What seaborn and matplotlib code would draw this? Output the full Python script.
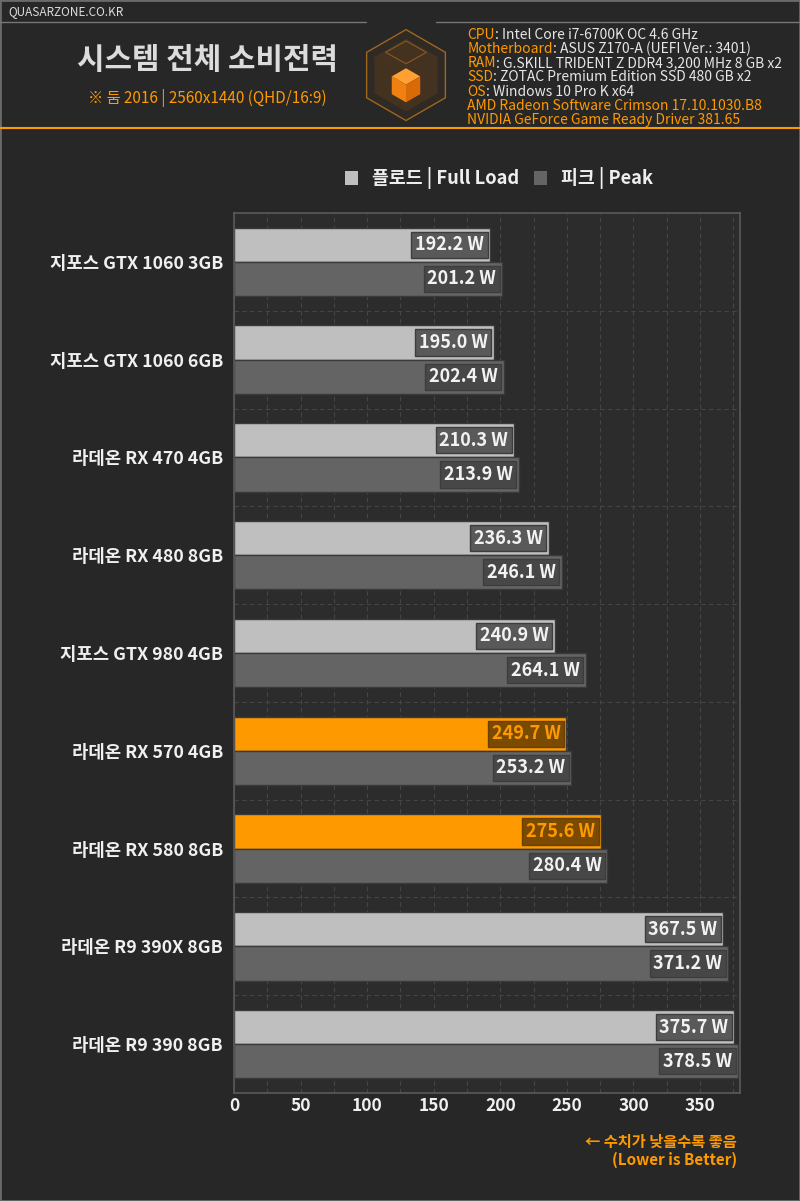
import matplotlib
matplotlib.use("Agg")
import matplotlib.pyplot as plt
from matplotlib.patches import RegularPolygon, Polygon, Rectangle
from matplotlib.lines import Line2D
import seaborn as sns
import pandas as pd
import numpy as np

# -----------------------------
# data
# -----------------------------
gpus = [
    "지포스 GTX 1060 3GB", "지포스 GTX 1060 6GB", "라데온 RX 470 4GB",
    "라데온 RX 480 8GB", "지포스 GTX 980 4GB", "라데온 RX 570 4GB",
    "라데온 RX 580 8GB", "라데온 R9 390X 8GB", "라데온 R9 390 8GB",
]
full_load = [192.2, 195.0, 210.3, 236.3, 240.9, 249.7, 275.6, 367.5, 375.7]
peak = [201.2, 202.4, 213.9, 246.1, 264.1, 253.2, 280.4, 371.2, 378.5]
highlight = ["라데온 RX 570 4GB", "라데온 RX 580 8GB"]
series = ["플로드 | Full Load", "피크 | Peak"]
xticks = [0, 50, 100, 150, 200, 250, 300, 350]

specs = [
    ("CPU", ": Intel Core i7-6700K OC 4.6 GHz"),
    ("Motherboard", ": ASUS Z170-A (UEFI Ver.: 3401)"),
    ("RAM", ": G.SKILL TRIDENT Z DDR4 3,200 MHz 8 GB x2"),
    ("SSD", ": ZOTAC Premium Edition SSD 480 GB x2"),
    ("OS", ": Windows 10 Pro K x64"),
    ("AMD Radeon Software Crimson 17.10.1030.B8", ""),
    ("NVIDIA GeForce Game Ready Driver 381.65", ""),
]

df = pd.DataFrame({
    "gpu": gpus * 2,
    "value": full_load + peak,
    "series": [series[0]] * len(gpus) + [series[1]] * len(gpus),
})

BG = "#272727"
ORANGE = "#ff9900"
C_FULL = "#bfbfbf"
C_PEAK = "#646464"

sns.set_theme(style="dark")
plt.rcParams["font.family"] = ["Noto Sans CJK KR", "DejaVu Sans"]

fig = plt.figure(figsize=(8, 12.01), dpi=100, facecolor=BG)
ax = fig.add_axes([0.2925, 0.0899, 0.6325, 0.7328])
ax.set_facecolor("#2c2c2c")

sns.barplot(data=df, y="gpu", x="value", hue="series", orient="h",
            palette=[C_FULL, C_PEAK], width=0.7, saturation=1,
            edgecolor="#3a3a3a", linewidth=1, legend=False, ax=ax)

ax.set_xlim(0, 380)
ax.set_xticks(xticks)
ax.set_xticks(np.arange(25, 380, 25), minor=True)
ax.set_xlabel("")
ax.set_ylabel("")
ax.tick_params(axis="x", colors="#f0f0f0", labelsize=12.5, length=0, pad=3)
ax.tick_params(axis="y", colors="#f0f0f0", labelsize=12.8, length=0, pad=8)
for t in ax.get_xticklabels() + ax.get_yticklabels():
    t.set_fontweight("bold")
ax.grid(True, axis="x", which="both", color="#454545", linestyle=(0, (4, 3)), linewidth=0.8)
ax.set_yticks(np.arange(len(gpus)) + 0.5, minor=True)
ax.tick_params(axis="y", which="minor", length=0)
ax.grid(True, axis="y", which="minor", color="#454545", linestyle=(0, (4, 3)), linewidth=0.8)
ax.set_axisbelow(True)
for s in ax.spines.values():
    s.set_color("#5a5a5a")
    s.set_linewidth(1.2)

# recolour highlighted cards & add value boxes
for ci, cont in enumerate(ax.containers):
    vals = full_load if ci == 0 else peak
    for i, bar in enumerate(cont):
        hot = ci == 0 and gpus[i] in highlight
        if hot:
            bar.set_facecolor(ORANGE)
        y = bar.get_y() + bar.get_height() / 2
        ax.text(vals[i] - 4.5, y, f"{vals[i]:.1f} W", ha="right", va="center",
                fontsize=13, fontweight="bold",
                color=ORANGE if hot else "#f2f2f2",
                bbox=dict(boxstyle="square,pad=0.2",
                          fc="#7a4a00" if hot else ("#595959" if ci == 0 else "#474747"),
                          ec="#3d3d3d" if not hot else "#6a3f00", lw=1))

# legend
for k, (lab, col) in enumerate(zip(series, [C_FULL, C_PEAK])):
    x0 = [0.431, 0.667][k]
    fig.patches.append(Rectangle((x0, 0.846), 0.017, 0.0115, transform=fig.transFigure,
                                 fc=col, ec="none"))
    fig.text(x0 + 0.034, 0.852, lab, color="#eeeeee", fontsize=13.2, fontweight="bold",
             ha="left", va="center")

# -----------------------------
# header
# -----------------------------
fig.text(0.011, 0.990, "QUASARZONE.CO.KR", color="#dddddd", fontsize=8.5, ha="left", va="center")
fig.add_artist(Line2D([0, 0.458], [0.982, 0.982], color="#777777", lw=1))
fig.add_artist(Line2D([0.545, 1], [0.982, 0.982], color="#777777", lw=1))
fig.add_artist(Line2D([0, 1], [0.8935, 0.8935], color=ORANGE, lw=1.5))
fig.patches.append(Rectangle((0, 0), 1, 1, transform=fig.transFigure, fill=False,
                             ec="#6a6a6a", lw=2))

fig.text(0.259, 0.950, "시스템 전체 소비전력", color="#dcdcdc", fontsize=21.5,
         fontweight="bold", ha="center", va="center")
fig.text(0.259, 0.918, "※ 둠 2016 | 2560x1440 (QHD/16:9)", color=ORANGE, fontsize=11,
         ha="center", va="center")

# logo
lax = fig.add_axes([0.445, 0.885, 0.125, 0.105])
lax.set_xlim(-1.1, 1.1)
lax.set_ylim(-1.1, 1.1)
lax.set_aspect("equal")
lax.axis("off")
lax.add_patch(RegularPolygon((0, 0), 6, radius=1.0, orientation=0, fc="#2f2a24", ec="#a0661c", lw=1))
lax.add_patch(RegularPolygon((0, 0), 6, radius=0.8, orientation=0, fc="#4a3520", ec="none", alpha=0.8))
s = 0.36
lax.add_patch(Polygon([(0, 0.15), (s * 0.87, 0.15 - s / 2), (0, 0.15 - s), (-s * 0.87, 0.15 - s / 2)],
                      fc="#ffa033", ec="none"))
lax.add_patch(Polygon([(-s * 0.87, 0.15 - s / 2), (0, 0.15 - s), (0, -0.6), (-s * 0.87, -0.6 + s / 2)],
                      fc="#f08010", ec="none"))
lax.add_patch(Polygon([(s * 0.87, 0.15 - s / 2), (0, 0.15 - s), (0, -0.6), (s * 0.87, -0.6 + s / 2)],
                      fc="#d86a08", ec="none"))
lax.add_patch(Polygon([(0, 0.75), (0.45, 0.5), (0, 0.25), (-0.45, 0.5)], fill=False, ec="#8a5a20", lw=0.8))

# specs
fig.canvas.draw()
for i, (key, rest) in enumerate(specs):
    y = 0.971 - i * 0.0118
    t = fig.text(0.584, y, key, color=ORANGE, fontsize=10, ha="left", va="center")
    if rest:
        bb = t.get_window_extent(renderer=fig.canvas.get_renderer())
        fig.text(bb.x1 / fig.bbox.width, y, rest, color="#e6e6e6", fontsize=10,
                 ha="left", va="center")

fig.text(0.921, 0.0495, "← 수치가 낮을수록 좋음", color=ORANGE, fontsize=11,
         fontweight="bold", ha="right", va="center")
fig.text(0.921, 0.0345, "(Lower is Better)", color=ORANGE, fontsize=11,
         fontweight="bold", ha="right", va="center")

fig.savefig("out.png", dpi=100, facecolor=BG)
